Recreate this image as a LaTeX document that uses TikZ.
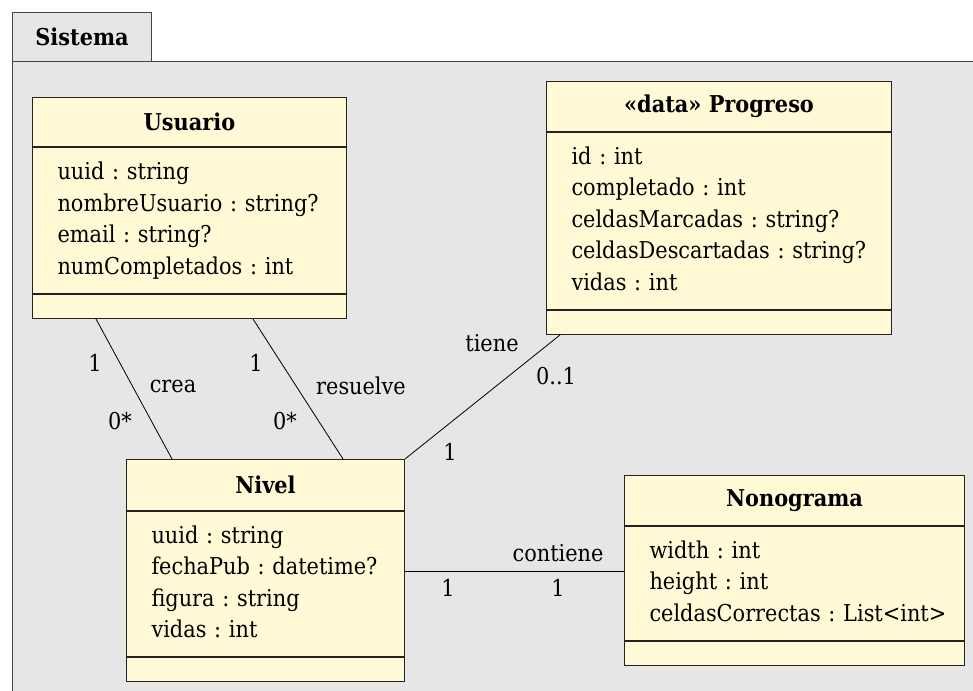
\documentclass[tikz,border=0pt]{standalone}
\usepackage{fontspec}
\setmainfont{DejaVu Serif Condensed}
\usetikzlibrary{positioning}

\definecolor{pkgfill}{RGB}{230,230,230}
\definecolor{umlfill}{RGB}{255,249,214}
\definecolor{umlline}{RGB}{35,35,35}
\newcommand\umlfont{\fontsize{23.2}{31.5}\selectfont\frenchspacing}
\newcommand\umlattrs[1]{\begin{tabular}{@{}l@{}}#1\end{tabular}}

\tikzset{
  pkgbox/.style={draw=umlline!85, fill=pkgfill, line width=1pt},
  classhead/.style 2 args={draw=umlline, fill=umlfill, line width=1pt, anchor=north west,
    minimum width=#1, minimum height=#2, inner sep=0pt, font=\umlfont\bfseries},
  classattr/.style={draw=umlline, fill=umlfill, line width=1pt, inner xsep=25pt,
    inner ysep=0pt, font=\umlfont},
  classops/.style={draw=umlline, fill=umlfill, line width=1pt, minimum width=#1,
    minimum height=24pt, inner sep=0pt},
  assoc/.style={draw=black, line width=0.8pt},
  assoclabel/.style={font=\umlfont, inner sep=0pt}
}

\begin{document}
\begin{tikzpicture}[x=1pt,y=1pt]
\useasboundingbox (0,0) rectangle (973,690);
\clip (0,0) rectangle (973,690);

\node[pkgbox, anchor=north west, minimum width=139pt, minimum height=49pt, inner sep=0pt, font=\umlfont\bfseries] (pkg-tab) at (12,678) {Sistema};
\draw[pkgbox] (pkg-tab.south west) rectangle (990,-10);

\node[classhead={314pt}{49pt}] (usr-head) at (32,593) {Usuario};
\node[classattr, text width=264pt, minimum height=146pt, below=0pt of usr-head] (usr-attr) {\umlattrs{uuid : string\\nombreUsuario : string?\\email : string?\\numCompletados : int}};
\node[classops=314pt, below=0pt of usr-attr] (usr-ops) {};

\node[classhead={345pt}{50pt}] (prg-head) at (546,609) {«data» Progreso};
\node[classattr, text width=295pt, minimum height=177pt, below=0pt of prg-head] (prg-attr) {\umlattrs{id : int\\completado : int\\celdasMarcadas : string?\\celdasDescartadas : string?\\vidas : int}};
\node[classops=345pt, below=0pt of prg-attr] (prg-ops) {};

\node[classhead={278pt}{51pt}] (niv-head) at (126,231) {Nivel};
\node[classattr, text width=228pt, minimum height=145pt, below=0pt of niv-head] (niv-attr) {\umlattrs{uuid : string\\fechaPub : datetime?\\figura : string\\vidas : int}};
\node[classops=278pt, below=0pt of niv-attr] (niv-ops) {};

\node[classhead={340pt}{50pt}] (non-head) at (624,215) {Nonograma};
\node[classattr, text width=290pt, minimum height=114pt, below=0pt of non-head] (non-attr) {\umlattrs{width : int\\height : int\\celdasCorrectas : List<int>}};
\node[classops=340pt, below=0pt of non-attr] (non-ops) {};

\draw[assoc] ([xshift=64pt]usr-ops.south west) -- ([xshift=46pt]niv-head.north west);
\draw[assoc] ([xshift=221pt]usr-ops.south west) -- ([xshift=217pt]niv-head.north west);
\draw[assoc] (niv-head.north east) -- ([xshift=14pt]prg-ops.south west);
\draw[assoc] ([yshift=12.5pt]niv-attr.east) -- ([yshift=12.5pt]niv-attr.east -| non-attr.west);

\node[assoclabel] (crea-one) at (95,327) {1};
\node[assoclabel] (crea-lbl) at (173,304) {crea};
\node[assoclabel] (crea-many) at (120,269) {0*};
\node[assoclabel] (res-one) at (256,327) {1};
\node[assoclabel] (res-lbl) at (361,304) {resuelve};
\node[assoclabel] (res-many) at (285,269) {0*};
\node[assoclabel] (tie-lbl) at (492,347) {tiene};
\node[assoclabel] (tie-opt) at (556,314) {0..1};
\node[assoclabel] (tie-one) at (450,238) {1};
\node[assoclabel] (con-lbl) at (558,137) {contiene};
\node[assoclabel] (con-left) at (448,102) {1};
\node[assoclabel] (con-right) at (558,102) {1};
\end{tikzpicture}
\end{document}
